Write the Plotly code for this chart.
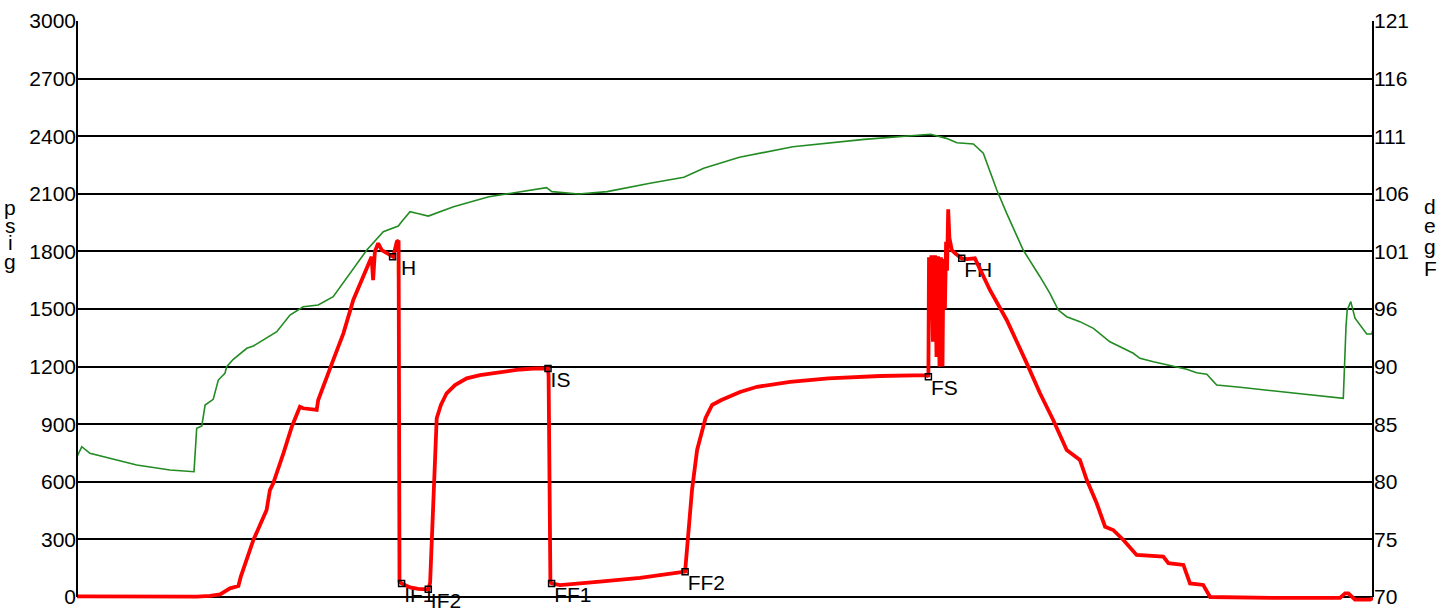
import plotly.graph_objects as go

# Gauge pressure (psig) against elapsed time (minutes)
press_t = [0, 14.3, 27.7, 40, 44.3, 47.7, 51, 53.8, 54.6, 56.6, 58.8, 61, 63.2, 64.3, 65.4,
           68.8, 71.6, 74.3, 75.4, 79.9, 80.4, 85.4, 88.8, 92.1, 95.4, 98.2, 98.7, 99.3, 100.4,
           101.6, 105.4, 106.6, 107.2, 107.4, 107.5, 108.2, 111, 113.7, 116, 117.1, 117.7,
           118.3, 119, 119.9, 121.3, 123.2, 126, 129.9, 134.3, 141, 147.7, 153.3, 157,
           157.2, 157.5, 157.8, 158.2, 161, 174.3, 187.7, 202.7, 203.7, 205, 206.7, 209.5,
           211.7, 214.8, 221, 226.7, 237.7, 250.5, 267.7, 283.3, 283.8,
           284, 284.5, 284.8, 285.3, 286, 286.5, 287, 287.5, 288, 288.5, 288.8, 289.3, 289.7,
           290, 290.4, 290.8, 291.6, 292.7, 294.9, 296.7, 299.3, 304.3, 309.9, 316.6, 321,
           325.4, 329.9, 332.1, 334.3, 336.6, 339.9, 342.7, 345.4, 348.8, 353.2, 362.1,
           363.8, 368.8, 371, 375.4, 377.7, 398.8, 421, 422.7, 423.8, 426, 431, 432]
press_psig = [3, 2, 1, 2, 6, 14, 45, 57, 106, 193, 297, 375, 453, 557, 592,
              748, 887, 991, 983, 974, 1026, 1234, 1373, 1547, 1668, 1772, 1651, 1800, 1842,
              1807, 1772, 1850, 1856, 600, 80, 71, 50, 42, 40, 40, 73,
              297, 609, 931, 1000, 1061, 1104, 1139, 1156, 1173, 1185, 1191, 1190,
              1150, 600, 80, 71, 62, 80, 100, 132, 297, 557, 766, 931,
              1000, 1026, 1068, 1095, 1120, 1139, 1151, 1156, 1147,
              1770, 1500, 1780, 1330, 1780, 1250, 1775, 1200, 1770, 1200, 1760, 1500, 1850,
              1700, 2019, 1870, 1807, 1790, 1764, 1760, 1764, 1599, 1443, 1217, 1061,
              922, 766, 740, 714, 609, 488, 366, 349, 297, 219, 210,
              176, 167, 71, 63, 0, -5, -5, 19, 19, -14, -14, -6]

# Temperature (degF) against elapsed time (minutes)
temp_t = [0, 1.6, 4.3, 8.8, 19.9, 31, 39, 39.9, 41.6, 42.7, 45.4, 47.1, 49.3, 49.9, 52.1,
          56.6, 58.8, 66.6, 71, 75.4, 80.4, 85.4, 89.9, 96.6, 102.1, 107.1, 108.2, 111,
          113.2, 117.1, 125.5, 137.3, 156.5, 158.3, 167.2, 176.7, 191, 202.3, 208.9, 220.8,
          238.6, 262.4, 284.5, 289.8, 293.3, 298.8, 302.1, 306.6, 309.9, 315.4, 321, 324.3,
          327.1, 329.9, 334.3, 338.8, 344.3, 352.1, 354.3, 358.8, 369.9, 373.2, 376.6,
          379.9, 387.7, 398.8, 409.9, 422.1, 423, 423.4, 424.6, 426, 429.9, 431.6, 432]
temp_degf = [82.42, 83.31, 82.72, 82.42, 81.69, 81.24, 81.09, 84.94, 85.14, 87.0, 87.5,
             89.21, 89.8, 90.39, 91.05, 92.02, 92.22, 93.49, 94.97, 95.7, 95.85, 96.59,
             98.22, 100.72, 102.35, 102.85, 103.23, 104.11, 103.97, 103.73, 104.56, 105.44,
             106.24, 105.89, 105.68, 105.89, 106.63, 107.16, 107.96, 108.93, 109.87, 110.52,
             110.97, 110.61, 110.22, 110.11, 109.29, 106.04, 103.97, 100.72, 98.36, 96.89,
             95.41, 94.82, 94.38, 93.79, 92.6, 91.58, 91.13, 90.83, 90.16, 89.86, 89.72,
             88.77, 88.57, 88.27, 87.97, 87.59, 93.93, 95.41, 96.15, 94.68, 93.29, 93.29,
             93.7]

# Test events picked on the pressure trace
event_names = ["IH", "IF1", "IF2", "IS", "FF1", "FF2", "FS", "FH"]
event_t = [105.2, 108.2, 117.1, 157.0, 158.2, 202.7, 283.8, 294.9]
event_psig = [1772, 71, 40, 1190, 71, 132, 1147, 1764]

psig_ticks = [0, 300, 600, 900, 1200, 1500, 1800, 2100, 2400, 2700, 3000]
degf_labels = ["70", "75", "80", "85", "90", "96", "101", "106", "111", "116", "121"]

FONT = "Liberation Sans, Arial, sans-serif"
FS = 21
W, H = 1448, 612
# plot area on the page: x 77..1373, y 21..602
L, T = 77, 21
plot_w, plot_h = 1296, 581
R = W - L - plot_w
B = H - T - plot_h

# a little room under zero so the near-zero trace is not clipped
p_lo = -26
d_lo = 70 + p_lo * 51 / 3000
degf_ticks = [70 + 5.1 * i for i in range(len(degf_labels))]


def px(x):
    return (x - L) / plot_w


def py(y):
    return (T + plot_h - y) / plot_h


fig = go.Figure()

fig.add_trace(go.Scatter(x=temp_t, y=temp_degf, yaxis="y2", mode="lines",
                         line=dict(color="#228B22", width=1.6), hoverinfo="skip"))
fig.add_trace(go.Scatter(x=event_t, y=event_psig, mode="markers+text", text=event_names,
                         textposition="bottom right", cliponaxis=False,
                         textfont=dict(family=FONT, size=FS, color="black"),
                         marker=dict(size=2.5, color="rgba(0,0,0,0)"), hoverinfo="skip"))
fig.add_trace(go.Scatter(x=press_t, y=press_psig, mode="lines",
                         line=dict(color="#ff0000", width=3.8), hoverinfo="skip"))
fig.add_trace(go.Scatter(x=event_t, y=event_psig, mode="markers", cliponaxis=False,
                         marker=dict(symbol="square-open", size=6, color="black",
                                     line=dict(width=1.5, color="black")),
                         hoverinfo="skip"))

# axis lines that stop at zero
for xp in (0, 1):
    fig.add_shape(type="line", xref="paper", yref="y", x0=xp, x1=xp, y0=0, y1=3000,
                  line=dict(color="black", width=2))

# stacked axis titles
for ch, yc in zip("psig", [207, 226, 243, 261]):
    fig.add_annotation(text=ch, xref="paper", yref="paper", x=px(10), y=py(yc),
                       xanchor="center", yanchor="middle", showarrow=False, borderpad=0,
                       font=dict(family=FONT, size=FS, color="black"))
for ch, yc in zip("degF", [206, 226, 247, 268]):
    fig.add_annotation(text=ch, xref="paper", yref="paper", x=px(1430), y=py(yc),
                       xanchor="center", yanchor="middle", showarrow=False, borderpad=0,
                       font=dict(family=FONT, size=FS, color="black"))

fig.update_layout(
    width=W, height=H,
    margin=dict(l=L, r=R, t=T, b=B, pad=0, autoexpand=False),
    paper_bgcolor="white", plot_bgcolor="white",
    showlegend=False, hovermode=False,
    font=dict(family=FONT, size=FS, color="black"),
    xaxis=dict(visible=False, range=[0, 432], automargin=False),
    yaxis=dict(range=[p_lo, 3000], tickvals=psig_ticks, ticks="", showline=False,
               zeroline=False, showgrid=True, gridcolor="black", gridwidth=2,
               automargin=False, tickfont=dict(family=FONT, size=FS, color="black")),
    yaxis2=dict(range=[d_lo, 121], overlaying="y", side="right", tickvals=degf_ticks,
                ticktext=degf_labels, ticks="", showline=False, zeroline=False,
                showgrid=False, automargin=False,
                tickfont=dict(family=FONT, size=FS, color="black")),
)

# drop the default 8px page margin so the figure fills the window
fig.write_html("out.html", config={"displayModeBar": False},
               post_script="document.body.style.margin = '0';")
